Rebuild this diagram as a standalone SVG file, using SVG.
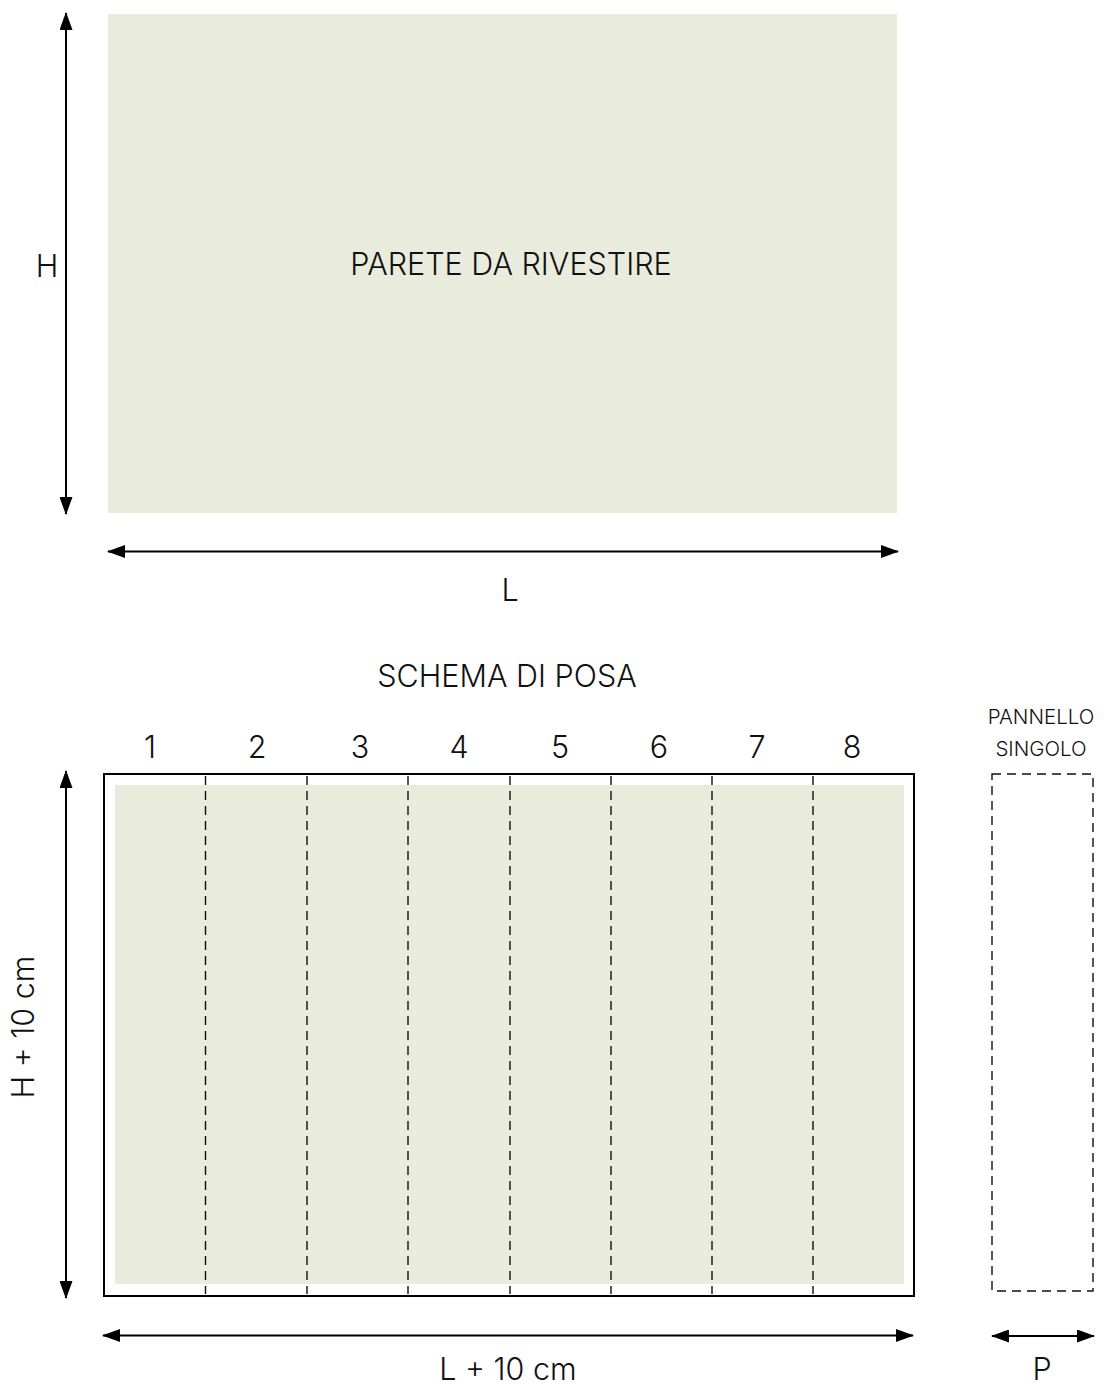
<svg xmlns="http://www.w3.org/2000/svg" width="1104" height="1385" viewBox="0 0 1104 1385">
<defs>
<style>
.t{font-family:Inter,"Noto Sans","Liberation Sans",sans-serif;fill:#111;text-anchor:middle;font-weight:300}
.big{font-size:30.5px}
.sm{font-size:20.5px}
.ln{stroke:#000;stroke-width:2;fill:none}
.dash{stroke:#111;stroke-width:1.4;stroke-dasharray:9 6;fill:none}
.wall{fill:#e9ebdc}
</style>
<marker id="ah" viewBox="0 0 18 13" refX="17" refY="6.5" markerWidth="18" markerHeight="13" markerUnits="userSpaceOnUse" orient="auto-start-reverse">
<path d="M0,0 L18,6.5 L0,13 Z" fill="#000"/>
</marker>
</defs>
<g id="wall">
<rect class="wall" x="108" y="14" width="789" height="499"/>
<text class="t big" x="511" y="275">PARETE DA RIVESTIRE</text>
</g>
<g id="dimH">
<text class="t big" x="47" y="277">H</text>
</g>
<g id="dimL">
<text class="t big" x="510" y="601">L</text>
</g>
<g id="title">
<text class="t big" x="507" y="687">SCHEMA DI POSA</text>
</g>
<g id="numbers">
<text class="t big" x="150" y="758">1</text>
<text class="t big" x="257" y="758">2</text>
<text class="t big" x="360" y="758">3</text>
<text class="t big" x="459" y="758">4</text>
<text class="t big" x="560" y="758">5</text>
<text class="t big" x="659" y="758">6</text>
<text class="t big" x="757" y="758">7</text>
<text class="t big" x="852" y="758">8</text>
</g>
<g id="layout">
<rect class="wall" x="115" y="785" width="789" height="499"/>
<rect class="ln" x="104" y="774" width="810" height="522"/>
<line class="dash" x1="205.5" y1="776" x2="205.5" y2="1294"/>
<line class="dash" x1="307" y1="776" x2="307" y2="1294"/>
<line class="dash" x1="408" y1="776" x2="408" y2="1294"/>
<line class="dash" x1="510" y1="776" x2="510" y2="1294"/>
<line class="dash" x1="611" y1="776" x2="611" y2="1294"/>
<line class="dash" x1="712" y1="776" x2="712" y2="1294"/>
<line class="dash" x1="813" y1="776" x2="813" y2="1294"/>
</g>
<g id="panel">
<text class="t sm" x="1041" y="724">PANNELLO</text>
<text class="t sm" x="1041" y="756">SINGOLO</text>
<rect class="dash" x="992" y="774" width="101" height="517"/>
</g>
<g id="dimH10">
<text class="t big" transform="translate(34,1027) rotate(-90)" x="0" y="0">H + 10 cm</text>
</g>
<g id="dimL10">
<text class="t big" x="508" y="1380">L + 10 cm</text>
</g>
<g id="dimP">
<text class="t big" x="1042" y="1380">P</text>
</g>
<g id="connectors">
<line class="ln" x1="66" y1="13" x2="66" y2="514" marker-start="url(#ah)" marker-end="url(#ah)"/>
<line class="ln" x1="108" y1="551.5" x2="898" y2="551.5" marker-start="url(#ah)" marker-end="url(#ah)"/>
<line class="ln" x1="66" y1="771" x2="66" y2="1298" marker-start="url(#ah)" marker-end="url(#ah)"/>
<line class="ln" x1="103" y1="1335.5" x2="913" y2="1335.5" marker-start="url(#ah)" marker-end="url(#ah)"/>
<line class="ln" x1="992" y1="1336" x2="1094" y2="1336" marker-start="url(#ah)" marker-end="url(#ah)"/>
</g>
</svg>
